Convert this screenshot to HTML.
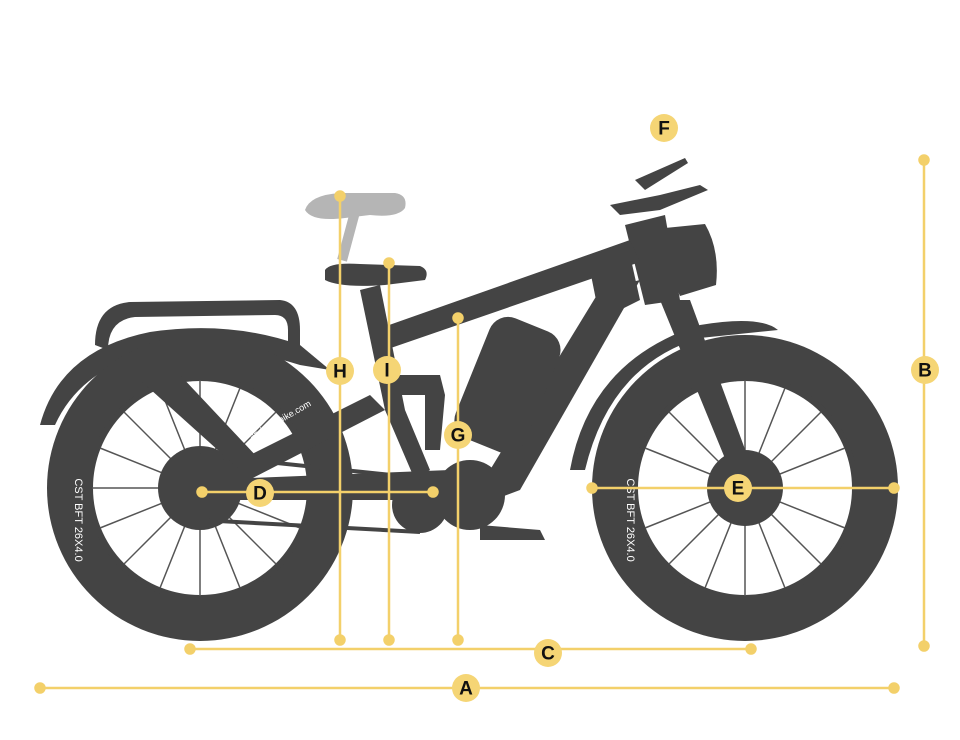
<!DOCTYPE html>
<html><head><meta charset="utf-8"><style>
html,body{margin:0;padding:0;background:#fff;}
svg{display:block}
text{font-family:"Liberation Sans",sans-serif;font-weight:bold;font-size:19px;fill:#111;text-anchor:middle;dominant-baseline:central}
</style></head><body>
<svg width="960" height="740" viewBox="0 0 960 740" xmlns="http://www.w3.org/2000/svg">
<g fill="#444" stroke="none">
<!-- ghost seat -->
<path d="M305 210 Q310 195 340 193 L395 193 Q408 195 405 208 Q398 218 370 215 L345 218 Q312 222 305 210Z" fill="#b5b5b5"/>
<rect x="350" y="212" width="10" height="50" fill="#b5b5b5" transform="rotate(15 355 212)"/>
<!-- rear fender -->
<path d="M40 425 Q60 350 150 332 Q230 320 300 345 L330 370 L300 365 Q220 340 150 352 Q80 370 55 425Z"/>
<!-- rear rack -->
<path d="M95 345 Q95 305 130 302 L280 300 Q300 302 300 330 L300 352 L288 350 L288 330 Q288 315 275 315 L135 317 Q108 320 108 350Z"/>
<!-- tires -->
<circle cx="200" cy="488" r="153"/>
<circle cx="745" cy="488" r="153"/>
<circle cx="200" cy="488" r="110" fill="#fff"/>
<circle cx="745" cy="488" r="110" fill="#fff"/>
<circle cx="200" cy="488" r="110" fill="none" stroke="#444" stroke-width="6"/>
<circle cx="745" cy="488" r="110" fill="none" stroke="#444" stroke-width="6"/>
</g>
<g stroke="#555" stroke-width="1.5">
<line x1="200" y1="380" x2="200" y2="596"/><line x1="92" y1="488" x2="308" y2="488"/>
<line x1="124" y1="412" x2="276" y2="564"/><line x1="124" y1="564" x2="276" y2="412"/>
<line x1="160" y1="388" x2="240" y2="588"/><line x1="100" y1="448" x2="300" y2="528"/>
<line x1="240" y1="388" x2="160" y2="588"/><line x1="100" y1="528" x2="300" y2="448"/>
<line x1="745" y1="380" x2="745" y2="596"/><line x1="637" y1="488" x2="853" y2="488"/>
<line x1="669" y1="412" x2="821" y2="564"/><line x1="669" y1="564" x2="821" y2="412"/>
<line x1="705" y1="388" x2="785" y2="588"/><line x1="645" y1="448" x2="845" y2="528"/>
<line x1="785" y1="388" x2="705" y2="588"/><line x1="645" y1="528" x2="845" y2="448"/>
</g>
<g fill="#444">
<circle cx="200" cy="488" r="42"/>
<circle cx="745" cy="488" r="38"/>
<!-- front fender -->
<path d="M570 470 Q590 360 700 325 Q760 315 778 330 L700 338 Q610 365 585 470Z"/>
<!-- fork -->
<polygon points="660,300 690,300 760,490 740,495"/>
<!-- head tube -->
<polygon points="625,225 665,215 680,300 645,305"/>
<!-- headlight bag -->
<path d="M665 228 L705 224 Q720 250 716 285 L680 296 Q668 270 665 228Z"/>
<!-- handlebar -->
<polygon points="635,180 685,158 688,163 645,190"/>
<polygon points="610,205 660,195 700,185 708,190 660,210 620,215"/>
<!-- top tube -->
<polygon points="375,330 630,240 640,262 385,350"/>
<polygon points="590,270 630,255 640,300 600,320"/>
<!-- down tube / battery -->
<polygon points="600,290 640,280 520,490 480,505 490,470"/>
<rect x="470" y="320" width="75" height="130" rx="20" transform="rotate(22 507 385)"/>
<!-- seat tube -->
<polygon points="360,290 380,285 405,410 430,470 415,480 385,410"/>
<!-- seat -->
<path d="M325 270 Q330 262 360 264 L420 266 Q430 270 425 280 L385 285 Q340 288 325 280Z"/>
<!-- rear shock -->
<polygon points="395,375 440,375 445,395 440,450 425,450 425,395 400,395"/>
<!-- chain stays / seat stays -->
<polygon points="200,480 370,395 385,410 210,500"/>
<polygon points="200,480 450,470 460,500 210,500"/>
<polygon points="140,380 180,375 260,460 240,470"/>
<!-- motor & chainring -->
<circle cx="470" cy="495" r="35"/>
<circle cx="420" cy="505" r="28"/>
<polygon points="480,525 540,530 545,540 480,540"/>
<!-- chain -->
<path d="M200 455 L420 478 M200 520 L420 532" stroke="#444" stroke-width="4" fill="none"/>
</g>
<text x="0" y="0" style="font-size:9px;fill:#fff;font-weight:normal" transform="translate(280 420) rotate(-30)">andskyebike.com</text>
<text x="0" y="0" style="font-size:11px;fill:#fff;font-weight:normal" transform="translate(78 520) rotate(90)">CST BFT 26X4.0</text>
<text x="0" y="0" style="font-size:11px;fill:#fff;font-weight:normal" transform="translate(630 520) rotate(90)">CST BFT 26X4.0</text>
<!-- dimension lines -->
<g stroke="#f3d06a" stroke-width="2.5" fill="#f3d06a">
<line x1="40" y1="688" x2="894" y2="688"/><circle cx="40" cy="688" r="4.5"/><circle cx="894" cy="688" r="4.5"/>
<line x1="190" y1="649" x2="751" y2="649"/><circle cx="190" cy="649" r="4.5"/><circle cx="751" cy="649" r="4.5"/>
<line x1="924" y1="160" x2="924" y2="646"/><circle cx="924" cy="160" r="4.5"/><circle cx="924" cy="646" r="4.5"/>
<line x1="340" y1="196" x2="340" y2="640"/><circle cx="340" cy="196" r="4.5"/><circle cx="340" cy="640" r="4.5"/>
<line x1="389" y1="263" x2="389" y2="640"/><circle cx="389" cy="263" r="4.5"/><circle cx="389" cy="640" r="4.5"/>
<line x1="458" y1="318" x2="458" y2="640"/><circle cx="458" cy="318" r="4.5"/><circle cx="458" cy="640" r="4.5"/>
<line x1="202" y1="492" x2="433" y2="492"/><circle cx="202" cy="492" r="4.5"/><circle cx="433" cy="492" r="4.5"/>
<line x1="592" y1="488" x2="894" y2="488"/><circle cx="592" cy="488" r="4.5"/><circle cx="894" cy="488" r="4.5"/>
</g>
<g fill="#f5d575">
<circle cx="466" cy="688" r="14"/><circle cx="548" cy="653" r="14"/><circle cx="925" cy="370" r="14"/>
<circle cx="340" cy="371" r="14"/><circle cx="387" cy="370" r="14"/><circle cx="458" cy="435" r="14"/>
<circle cx="260" cy="493" r="14"/><circle cx="738" cy="488" r="14"/><circle cx="664" cy="128" r="14"/>
</g>
<text x="466" y="689">A</text><text x="548" y="654">C</text><text x="925" y="371">B</text>
<text x="340" y="372">H</text><text x="387" y="371">I</text><text x="458" y="436">G</text>
<text x="260" y="494">D</text><text x="738" y="489">E</text><text x="664" y="129">F</text>
</svg>
</body></html>
